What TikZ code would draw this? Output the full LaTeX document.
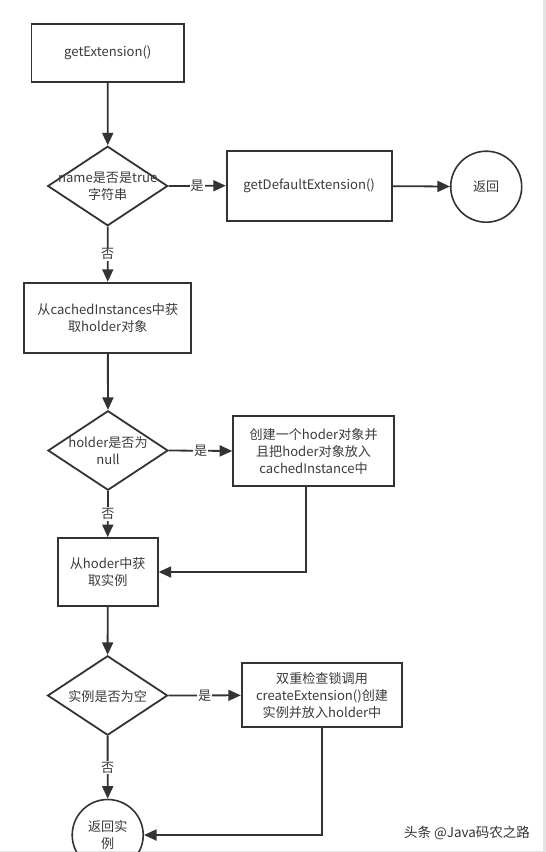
\documentclass[tikz,border=0pt]{standalone}
\usepackage{fontspec}
\setmainfont{Noto Sans CJK SC}
\usetikzlibrary{shapes.geometric,arrows.meta,positioning,calc}
\definecolor{ln}{HTML}{333333}
\definecolor{tx}{HTML}{3A3A3A}
\begin{document}
\begin{tikzpicture}[x=1pt,y=-1pt,
  every node/.style={font=\fontsize{13.1}{17}\selectfont, text=tx},
  procbox/.style={draw=ln, line width=1.8pt, rectangle, align=center, inner sep=0pt},
  decbox/.style={draw=ln, line width=1.8pt, diamond, minimum width=120pt, minimum height=79.5pt, inner sep=0pt},
  endcirc/.style={draw=ln, line width=1.6pt, circle, minimum size=71pt, inner sep=0pt, align=center},
  flow/.style={draw=ln, line width=1.8pt, -{Triangle[length=12.5pt,width=11pt]}},
  lbl/.style={fill=white, inner sep=1pt}]
\useasboundingbox (0,0) rectangle (546,852);
\fill[gray!22] (543.3,0) rectangle (546,852);
\fill[gray!22] (0,850.6) rectangle (546,852);

\node[procbox, minimum width=152.5pt, minimum height=57.5pt] (n1) at (107.8,53) {getExtension()};
\node[decbox] (d1) at (107.7,186) {};
\node[align=center] (t1) at (107.7,186.5) {name是否是true\\字符串};
\node[procbox, minimum width=165pt, minimum height=70pt] (def) at (309.2,185.7) {getDefaultExtension()};
\node[endcirc] (c1) at (486.2,186.7) {返回};

\node[procbox, minimum width=167pt, minimum height=70pt] (b2) at (107.8,317.7) {从cachedInstances中获\\取holder对象};
\node[decbox] (d2) at (108,450.5) {};
\node[align=center] (t2) at (108,451) {holder是否为\\null};
\node[procbox, minimum width=161pt, minimum height=70pt] (b3) at (313.6,451) {创建一个hoder对象并\\且把hoder对象放入\\cachedInstance中};
\node[procbox, minimum width=100pt, minimum height=68pt] (b4) at (107.7,572) {从hoder中获\\取实例};

\node[decbox] (d3) at (107.6,695.5) {};
\node (t3) at (107.6,696) {实例是否为空};
\node[procbox, minimum width=160.6pt, minimum height=64pt] (b5) at (322,695.3) {双重检查锁调用\\createExtension()创建\\实例并放入holder中};
\node[endcirc] (c2) at (107.7,835) {返回实\\例};

\draw[flow] (n1) -- (d1);
\draw[flow] (d1.east) -- node[lbl] {是} (def.west);
\draw[flow] (def) -- (c1);
\draw[flow] (d1.south) -- node[lbl] {否} (b2.north);
\draw[flow] (b2) -- (d2);
\draw[flow] (d2.east) -- node[lbl] {是} (b3.west);
\draw[flow] (d2.south) -- node[lbl] {否} (b4.north);
\draw[flow] ([xshift=-7.8pt]b3.south) |- (b4.east);
\draw[flow] (b4) -- (d3);
\draw[flow] (d3.east) -- node[lbl] {是} (b5.west);
\draw[flow] (d3.south) -- node[lbl] {否} (c2.north);
\draw[flow] (b5.south) |- (c2.east);

\node[anchor=east, font=\fontsize{13.5}{15}\selectfont, text=black!80] (wm) at (533.5,833) {头条 @Java码农之路};
\end{tikzpicture}
\end{document}
